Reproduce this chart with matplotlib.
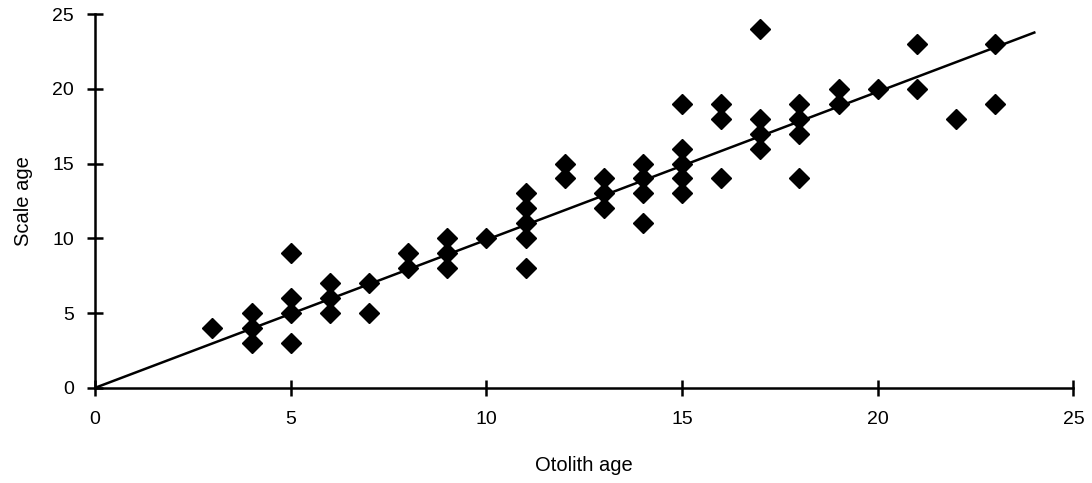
import matplotlib
matplotlib.use("Agg")
import matplotlib.pyplot as plt

plt.rcParams['font.family'] = ['Liberation Sans', 'DejaVu Sans']

# otolith age vs scale age readings
otolith_age = [3, 4, 4, 4, 5, 5, 5, 5, 6, 6, 6, 7, 7, 8, 8, 9, 9, 9, 10,
               11, 11, 11, 11, 11, 12, 12, 13, 13, 13, 14, 14, 14, 14,
               15, 15, 15, 15, 15, 16, 16, 16, 17, 17, 17, 17,
               18, 18, 18, 18, 19, 19, 20, 21, 21, 22, 23, 23]
scale_age = [4, 5, 4, 3, 9, 6, 5, 3, 7, 6, 5, 7, 5, 9, 8, 10, 9, 8, 10,
             13, 12, 11, 10, 8, 15, 14, 14, 13, 12, 15, 14, 13, 11,
             19, 16, 15, 14, 13, 19, 18, 14, 24, 18, 17, 16,
             19, 18, 17, 14, 20, 19, 20, 23, 20, 18, 23, 19]

fit_x = [0, 24]
fit_slope = 0.99

fig = plt.figure(figsize=(10.92, 4.83), dpi=100)
ax = fig.add_axes([0.087, 0.197, 0.896, 0.774])

ax.plot(otolith_age, scale_age, linestyle='none', marker='D', color='black',
        markersize=10, zorder=3)
ax.plot(fit_x, [fit_slope * v for v in fit_x], color='black', linewidth=1.8, zorder=2)

ax.set_xlim(0, 25)
ax.set_ylim(0, 25)
ax.set_xticks(range(0, 26, 5))
ax.set_yticks(range(0, 26, 5))
ax.spines['top'].set_visible(False)
ax.spines['right'].set_visible(False)
ax.spines['left'].set_linewidth(1.8)
ax.spines['bottom'].set_linewidth(1.8)
ax.tick_params(direction='inout', length=12, width=1.8, labelsize=14)
ax.tick_params(axis='x', pad=11)
ax.tick_params(axis='y', pad=9)

ax.set_xlabel('Otolith age', fontsize=14.5, labelpad=20)
ax.set_ylabel('Scale age', fontsize=14.5, labelpad=14)

fig.savefig('out.png', dpi=100)
